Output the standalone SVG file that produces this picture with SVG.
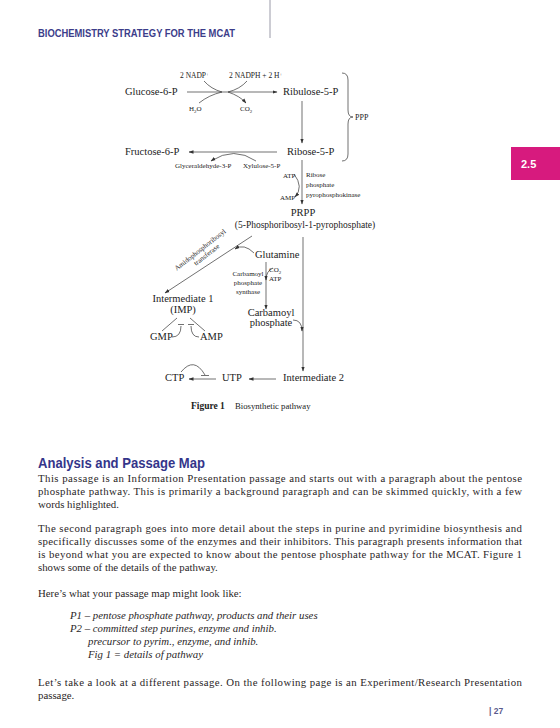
<svg xmlns="http://www.w3.org/2000/svg" width="560" height="728" viewBox="0 0 560 728">
<defs>
<marker id="ah" viewBox="0 0 10 10" refX="9" refY="5" markerWidth="5" markerHeight="5" orient="auto" markerUnits="userSpaceOnUse">
<path d="M0 1.5 L10 5 L0 8.5 Z" fill="#333"/>
</marker>
</defs>
<style>
.l{fill:none;stroke:#333;stroke-width:0.7}
.f{font-family:"Liberation Serif","Times New Roman",serif;fill:#222}
.m{font-size:10.5px}
.s{font-size:7px}
.t{font-size:7.5px}
.sup{font-size:5px}
.b{font-family:"Liberation Serif","Times New Roman",serif;font-size:10.8px;fill:#2a2627}
.i{font-style:italic}
</style>
<rect width="560" height="728" fill="#fff"/>
<g id="header">
<text x="38" y="37" font-family="'Liberation Sans',Arial,sans-serif" font-size="10" font-weight="bold" fill="#3c3d8a" textLength="197" lengthAdjust="spacingAndGlyphs">BIOCHEMISTRY STRATEGY FOR THE MCAT</text>
<line x1="270" y1="0" x2="270" y2="38" stroke="#9a9aa8" stroke-width="1"/>
</g>
<g id="tab">
<rect x="511" y="147" width="49" height="33" fill="#d71a7e"/>
<text x="521" y="168" font-family="'Liberation Sans',Arial,sans-serif" font-size="11" font-weight="bold" fill="#fff">2.5</text>
</g>
<g id="connectors">
<path class="l" d="M187 92 H277" marker-end="url(#ah)"/>
<path class="l" d="M204 81 Q211 89 222 92"/>
<path class="l" d="M199 103 Q209 95 222 92"/>
<path class="l" d="M228 92 Q240 89 247 81"/>
<path class="l" d="M228 92 Q240 96 246 103" marker-end="url(#ah)"/>
<path class="l" d="M342 73 Q348 73 348 80 V110 Q348 117 353 117 Q348 117 348 124 V154 Q348 161 342 161"/>
<path class="l" d="M302 101 V143" marker-end="url(#ah)"/>
<path class="l" d="M277 152 H189" marker-end="url(#ah)"/>
<path class="l" d="M256 161 Q234 146 211 161" marker-end="url(#ah)"/>
<path class="l" d="M302 160 V204" marker-end="url(#ah)"/>
<path class="l" d="M294 174 Q304 187 295 197" marker-end="url(#ah)"/>
<path class="l" d="M252 236 L165 293" marker-end="url(#ah)"/>
<path class="l" d="M254 253 Q244 243 235 249" marker-end="url(#ah)"/>
<path class="l" d="M266 262 V309" marker-end="url(#ah)"/>
<path class="l" d="M273 268 Q266 271 266 280" marker-end="url(#ah)"/>
<path class="l" d="M303 237 V371" marker-end="url(#ah)"/>
<path class="l" d="M293 320 Q302 320 302 331" marker-end="url(#ah)"/>
<path class="l" d="M177 318 L162 331"/>
<path class="l" d="M190 318 L205 331"/>
<path class="l" d="M172 337 Q181 337 181 326"/>
<path class="l" d="M178 324.5 H184"/>
<path class="l" d="M199 337 Q191 337 191 326"/>
<path class="l" d="M188 324.5 H194"/>
<path class="l" d="M276 379 H249" marker-end="url(#ah)"/>
<path class="l" d="M216 379 H189" marker-end="url(#ah)"/>
<path class="l" d="M181 372 Q194 356 205 375"/>
<path class="l" d="M201 375.5 H209"/>
</g>
<g id="n-glucose"><text class="f m" x="125" y="95">Glucose-6-P</text></g>
<g id="n-nadp"><text class="f t" x="180" y="78">2 NADP<tspan class="sup" dy="-2.5">+</tspan></text></g>
<g id="n-nadph"><text class="f t" x="229" y="78">2 NADPH + 2 H<tspan class="sup" dy="-2.5">+</tspan></text></g>
<g id="n-h2o"><text class="f s" x="189" y="111">H<tspan class="sup" dy="1.5">2</tspan><tspan dy="-1.5">O</tspan></text></g>
<g id="n-co2"><text class="f s" x="240" y="111">CO<tspan class="sup" dy="1.5">2</tspan></text></g>
<g id="n-ribulose"><text class="f m" x="283" y="95">Ribulose-5-P</text></g>
<g id="n-ppp"><text class="f" x="355" y="120" style="font-size:8px">PPP</text></g>
<g id="n-fructose"><text class="f m" x="125" y="155">Fructose-6-P</text></g>
<g id="n-ribose"><text class="f m" x="287" y="155">Ribose-5-P</text></g>
<g id="n-glyc"><text class="f s" x="175" y="168">Glyceraldehyde-3-P</text></g>
<g id="n-xyl"><text class="f s" x="243" y="168">Xylulose-5-P</text></g>
<g id="n-atp"><text class="f s" x="283" y="178">ATP</text></g>
<g id="n-amp1"><text class="f s" x="280" y="200">AMP</text></g>
<g id="n-rppk"><text class="f s" x="306" y="177">Ribose</text><text class="f s" x="306" y="187">phosphate</text><text class="f s" x="306" y="197">pyrophosphokinase</text></g>
<g id="n-prpp"><text class="f m" x="303" y="216" text-anchor="middle">PRPP</text><text class="f" x="305" y="228" text-anchor="middle" style="font-size:9.5px">(5-Phosphoribosyl-1-pyrophosphate)</text></g>
<g id="n-amido"><text class="f s" transform="translate(201.5 251.5) rotate(-38)" text-anchor="middle">Amidophosphoribosyl</text><text class="f s" transform="translate(208 256.5) rotate(-38)" text-anchor="middle">transferase</text></g>
<g id="n-glutamine"><text class="f m" x="255" y="258">Glutamine</text></g>
<g id="n-cps"><text class="f s" x="248" y="276" text-anchor="middle">Carbamoyl</text><text class="f s" x="248" y="285" text-anchor="middle">phosphate</text><text class="f s" x="248" y="294" text-anchor="middle">synthase</text></g>
<g id="n-co2atp"><text class="f s" x="269" y="272">CO<tspan class="sup" dy="1.5">2</tspan></text><text class="f s" x="269" y="281">ATP</text></g>
<g id="n-cp"><text class="f m" x="271" y="316" text-anchor="middle">Carbamoyl</text><text class="f m" x="271" y="326" text-anchor="middle">phosphate</text></g>
<g id="n-imp"><text class="f m" x="183" y="302" text-anchor="middle">Intermediate 1</text><text class="f m" x="183" y="313" text-anchor="middle">(IMP)</text></g>
<g id="n-gmp"><text class="f m" x="150" y="340">GMP</text></g>
<g id="n-amp2"><text class="f m" x="200" y="340">AMP</text></g>
<g id="n-ctp"><text class="f m" x="165" y="381">CTP</text></g>
<g id="n-utp"><text class="f m" x="222" y="381">UTP</text></g>
<g id="n-int2"><text class="f m" x="283" y="381">Intermediate 2</text></g>
<g id="caption"><text class="f" x="191" y="409" font-size="9.5" font-weight="bold">Figure 1</text><text class="f" x="235" y="409" font-size="8.7">Biosynthetic pathway</text></g>
<g id="body">
<text x="38" y="468" font-family="'Liberation Sans',Arial,sans-serif" font-size="14" font-weight="bold" fill="#34358a" textLength="167" lengthAdjust="spacingAndGlyphs">Analysis and Passage Map</text>
<text class="b" x="38" y="482" textLength="484" lengthAdjust="spacing">This passage is an Information Presentation passage and starts out with a paragraph about the pentose</text>
<text class="b" x="38" y="495" textLength="484" lengthAdjust="spacing">phosphate pathway. This is primarily a background paragraph and can be skimmed quickly, with a few</text>
<text class="b" x="38" y="508">words highlighted.</text>
<text class="b" x="38" y="532" textLength="484" lengthAdjust="spacing">The second paragraph goes into more detail about the steps in purine and pyrimidine biosynthesis and</text>
<text class="b" x="38" y="545" textLength="484" lengthAdjust="spacing">specifically discusses some of the enzymes and their inhibitors. This paragraph presents information that</text>
<text class="b" x="38" y="558" textLength="484" lengthAdjust="spacing">is beyond what you are expected to know about the pentose phosphate pathway for the MCAT. Figure 1</text>
<text class="b" x="38" y="571">shows some of the details of the pathway.</text>
<text class="b" x="38" y="597">Here’s what your passage map might look like:</text>
<text class="b i" x="70" y="619">P1 – pentose phosphate pathway, products and their uses</text>
<text class="b i" x="70" y="632">P2 – committed step purines, enzyme and inhib.</text>
<text class="b i" x="88" y="645">precursor to pyrim., enzyme, and inhib.</text>
<text class="b i" x="88" y="658">Fig 1 = details of pathway</text>
<text class="b" x="38" y="686" textLength="484" lengthAdjust="spacing">Let’s take a look at a different passage. On the following page is an Experiment/Research Presentation</text>
<text class="b" x="38" y="699">passage.</text>
<text x="489" y="714" font-family="'Liberation Sans',Arial,sans-serif" font-size="8.5" font-weight="bold" fill="#5a5b8c">|  27</text>
</g>
</svg>
